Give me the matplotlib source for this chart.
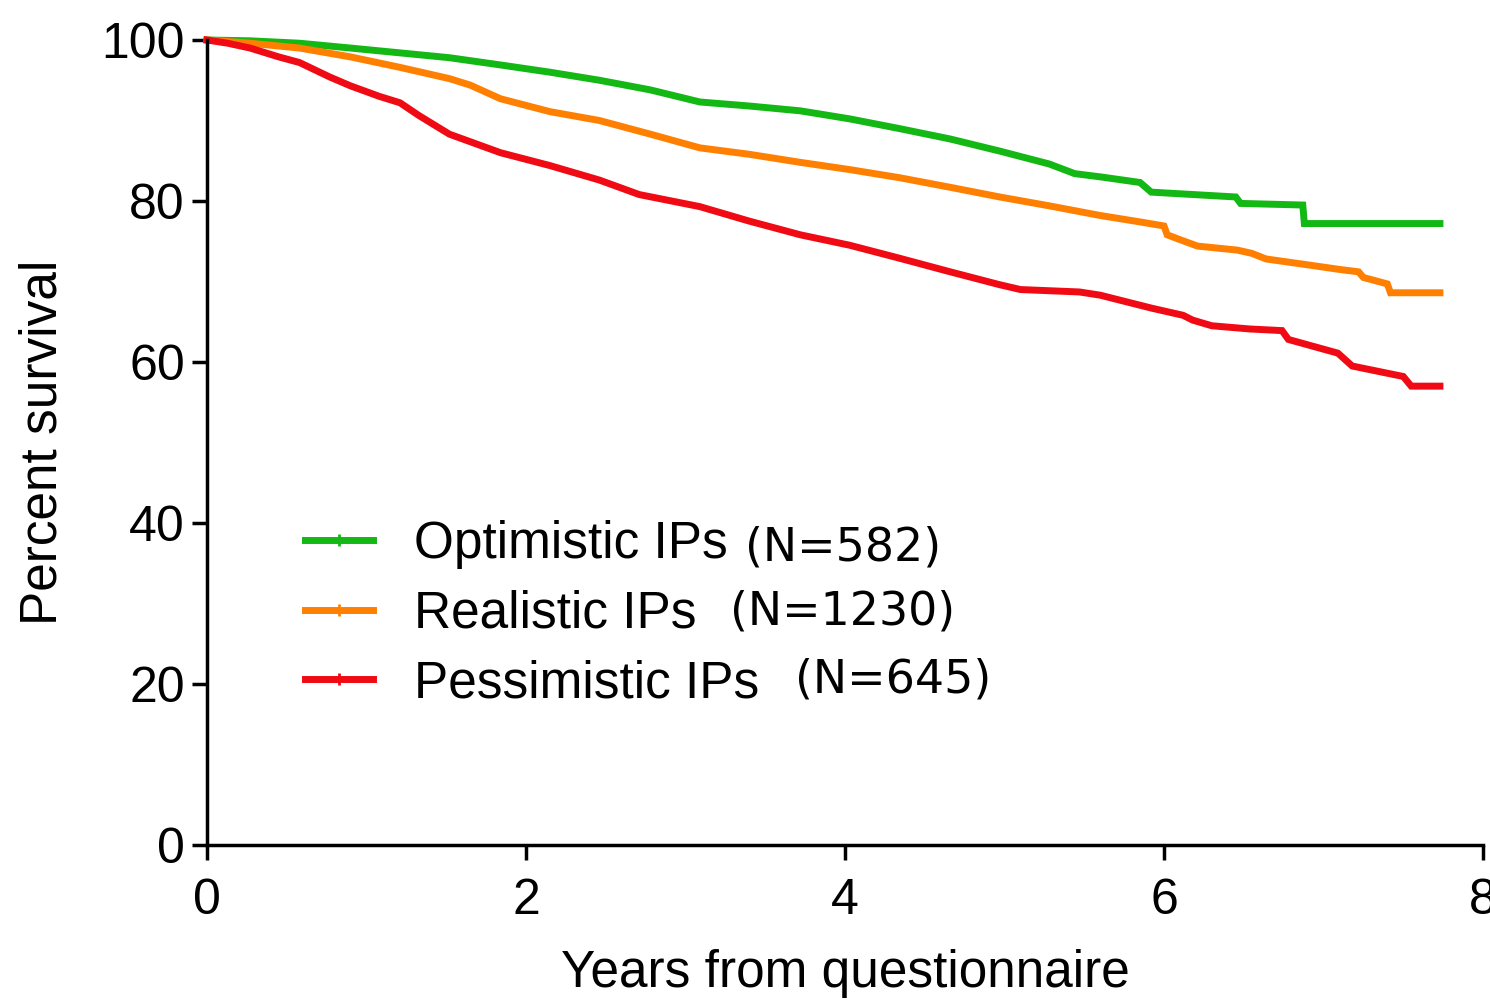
import matplotlib
matplotlib.use("Agg")
import matplotlib.pyplot as plt
from matplotlib.lines import Line2D

# ---- data ----
opt_t = [0, 0.27, 0.58, 0.9, 1.21, 1.52, 1.84, 2.15, 2.46, 2.78, 3.09, 3.40, 3.72, 4.03,
         4.34, 4.66, 4.97, 5.28, 5.44, 5.60, 5.85, 5.92, 6.45, 6.48, 6.87, 6.88, 7.73]
opt_s = [100, 99.9, 99.6, 99.0, 98.4, 97.8, 96.9, 96.0, 95.0, 93.8, 92.3, 91.8, 91.2, 90.2,
         89.0, 87.7, 86.2, 84.6, 83.4, 83.0, 82.3, 81.1, 80.5, 79.7, 79.5, 77.2, 77.2]

real_t = [0, 0.27, 0.58, 0.9, 1.21, 1.52, 1.65, 1.84, 2.15, 2.46, 2.78, 3.09, 3.40, 3.72,
          4.03, 4.34, 4.66, 4.97, 5.28, 5.60, 5.85, 6.00, 6.02, 6.10, 6.21, 6.46, 6.55,
          6.64, 6.89, 7.10, 7.22, 7.25, 7.40, 7.42, 7.73]
real_s = [100, 99.6, 99.0, 97.9, 96.6, 95.2, 94.4, 92.7, 91.1, 90.0, 88.3, 86.6, 85.8, 84.8,
          83.9, 82.9, 81.7, 80.5, 79.4, 78.2, 77.4, 76.9, 75.8, 75.2, 74.4, 73.9, 73.5,
          72.8, 72.1, 71.5, 71.2, 70.5, 69.7, 68.6, 68.6]

pess_t = [0, 0.13, 0.27, 0.45, 0.58, 0.77, 0.9, 1.08, 1.21, 1.33, 1.52, 1.84, 2.15, 2.46,
          2.71, 3.09, 3.40, 3.72, 4.03, 4.34, 4.66, 4.97, 5.10, 5.47, 5.60, 5.92, 6.12,
          6.18, 6.30, 6.54, 6.74, 6.78, 7.09, 7.18, 7.50, 7.55, 7.73]
pess_s = [100, 99.6, 99.0, 97.9, 97.2, 95.4, 94.3, 93.0, 92.2, 90.6, 88.3, 86.0, 84.4, 82.6,
          80.8, 79.3, 77.5, 75.8, 74.5, 72.9, 71.2, 69.6, 69.0, 68.7, 68.3, 66.7, 65.8,
          65.2, 64.5, 64.1, 63.9, 62.8, 61.1, 59.5, 58.2, 57.0, 57.0]

labels = ["Optimistic IPs", "Realistic IPs", "Pessimistic IPs"]
counts = ["(N=582)", "(N=1230)", "(N=645)"]
colors = ["#14b814", "#ff8000", "#f00a14"]
xticks = [0, 2, 4, 6, 8]
yticks = [0, 20, 40, 60, 80, 100]

W, H = 1490, 1005
fig = plt.figure(figsize=(W / 100, H / 100), dpi=100)
ax = fig.add_axes([207 / W, 1 - 845 / H, (1483 - 207) / W, (845 - 40) / H])

for t, s, c in zip([opt_t, real_t, pess_t], [opt_s, real_s, pess_s], colors):
    ax.plot(t, s, color=c, lw=5, solid_joinstyle="miter", clip_on=False)

ax.set_xlim(0, 8)
ax.set_ylim(0, 100)
ax.set_xticks(xticks)
ax.set_yticks(yticks)
for side in ["top", "right"]:
    ax.spines[side].set_visible(False)
for side in ["left", "bottom"]:
    ax.spines[side].set_linewidth(2.5)
ax.tick_params(direction="out", length=11, width=2.5, labelsize=36,
               labelfontfamily="Liberation Sans")
ax.tick_params(axis="x", pad=13)
ax.tick_params(axis="y", pad=5)
ax.set_xlabel("Years from questionnaire", fontsize=37, family="Liberation Sans", labelpad=18)
ax.set_ylabel("Percent survival", fontsize=37, family="Liberation Sans", labelpad=24)

handles = [Line2D([], [], color=c, lw=5, marker="|", markersize=9, mew=2) for c in colors]
leg = ax.legend(handles, labels, loc="upper left", bbox_to_anchor=(305 / W, 1 - 520 / H),
                bbox_transform=fig.transFigure, frameon=False, numpoints=1,
                prop={"family": "Liberation Sans", "size": 37}, handlelength=1.33,
                handletextpad=0.8, labelspacing=0.4, borderpad=0, borderaxespad=0)

n_pos = [(745, 548), (730, 612), (795, 680)]
for (px, py), txt in zip(n_pos, counts):
    fig.text(px / W, 1 - py / H, txt, fontsize=33, family="DejaVu Sans",
             ha="left", va="center")

fig.savefig("out.png", dpi=100, facecolor="white")
